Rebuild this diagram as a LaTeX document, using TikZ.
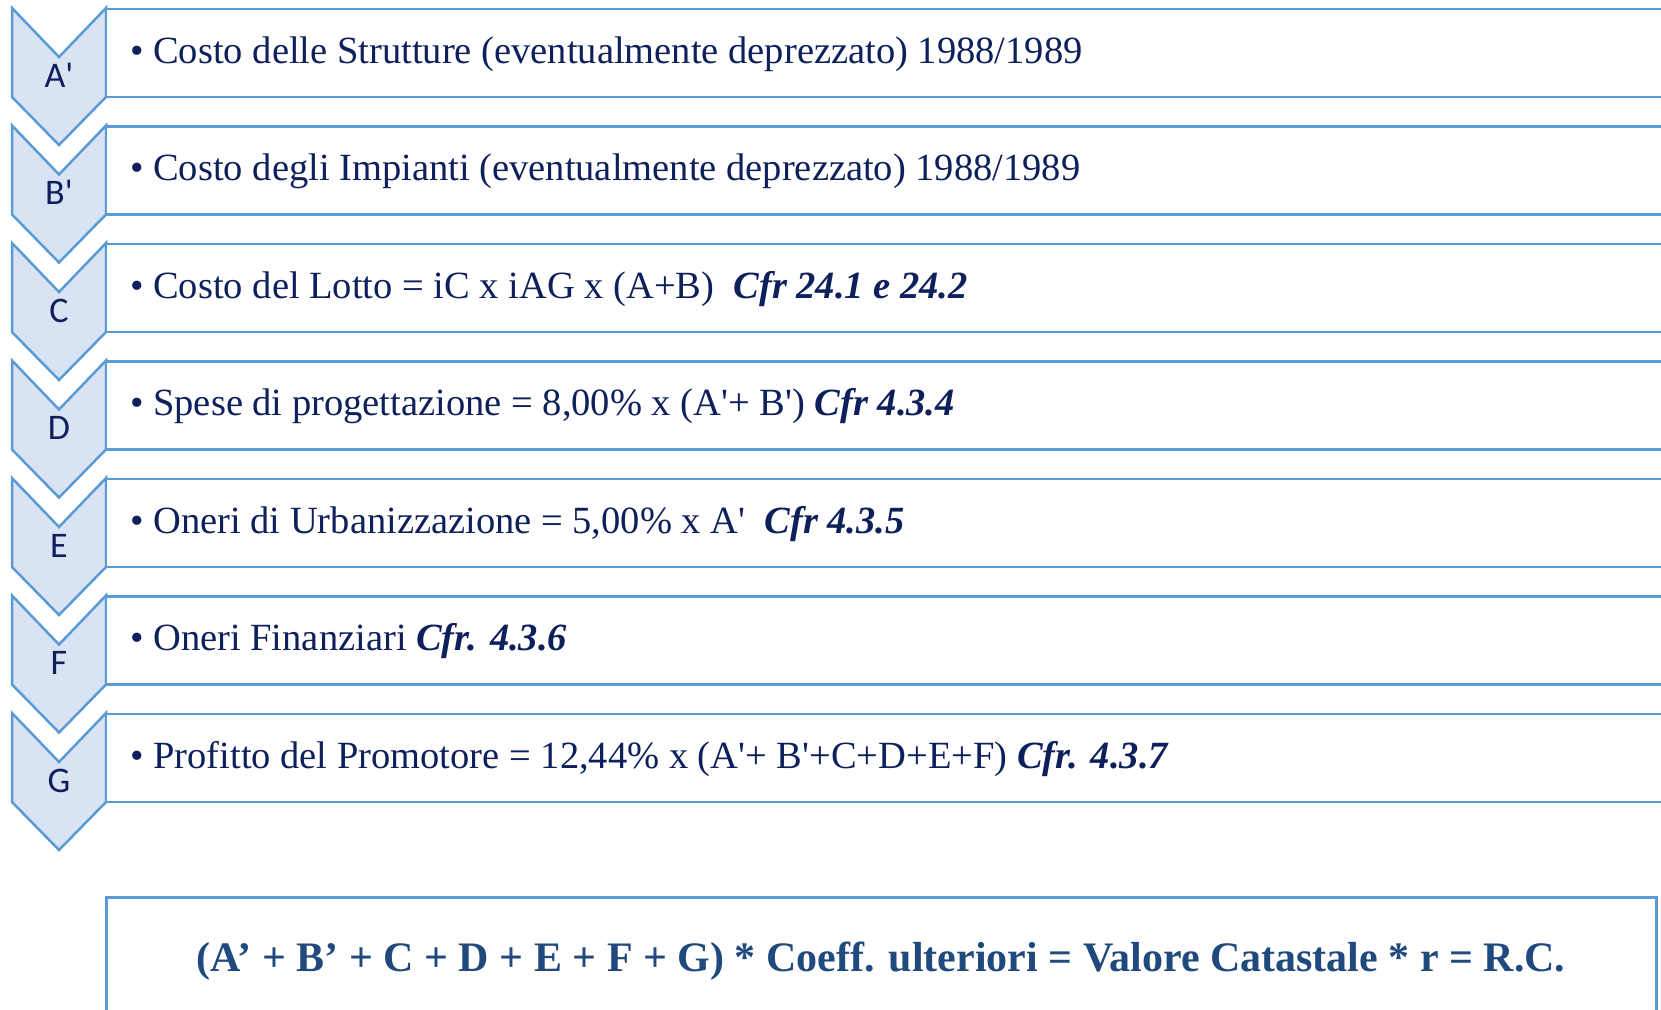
\documentclass[tikz,border=0pt]{standalone}
\usepackage{fontspec}
\setmainfont{Liberation Serif}
\newfontfamily\lblfont{Carlito}
\definecolor{edge}{HTML}{5B9BD5}
\definecolor{chev}{HTML}{DAE3F3}
\definecolor{ink}{HTML}{0E205B}
\definecolor{formula}{HTML}{204A7E}
\newcommand\cfr[1]{\textbf{\textit{#1}}}
\newcommand\sq{\textquotesingle}
\newcommand\rowentry[4]{%
  % #1 name, #2 top y, #3 label, #4 text
  \draw[chevshape] (12,#2) -- (59,#2+49) -- (106,#2) -- (106,#2+89) -- (59,#2+137) -- (12,#2+89) -- cycle;
  \draw[rowbox] (106,#2+1) rectangle (1700,#2+89);
  \node[lbl] (l#1) at (59,#2+79) {#3};
  \node[itemtext] (t#1) at (130,#2+55) {#4};
}
\begin{document}
\begin{tikzpicture}[x=1pt,y=-1pt,
  chevshape/.style={draw=edge, fill=chev, line width=2.5pt, line join=miter},
  rowbox/.style={draw=edge, fill=white, line width=2.5pt},
  itemtext/.style={anchor=base west, text=ink, font=\fontsize{38.5}{44}\selectfont, inner sep=0pt},
  lbl/.style={anchor=base, text=ink, font=\lblfont\fontsize{36}{40}\selectfont, inner sep=0pt},
  resbox/.style={draw=edge, fill=white, line width=3pt},
  restext/.style={anchor=base, text=formula, font=\bfseries\fontsize{42}{48}\selectfont, inner sep=0pt}]
\useasboundingbox (0,0) rectangle (1661,1009);
\clip (0,0) rectangle (1661,1009);
\rowentry{A}{8}{A\sq}{• Costo delle Strutture (eventualmente deprezzato) 1988/1989}
\rowentry{B}{125.5}{B\sq}{• Costo degli Impianti (eventualmente deprezzato) 1988/1989}
\rowentry{C}{243}{C}{• Costo del Lotto = iC x iAG x (A+B)\ \ \cfr{Cfr 24.1 e 24.2}}
\rowentry{D}{360.5}{D}{• Spese di progettazione = 8,00\% x (A\sq+ B\sq) \cfr{Cfr 4.3.4}}
\rowentry{E}{478}{E}{• Oneri di Urbanizzazione = 5,00\% x A\sq\ \ \cfr{Cfr 4.3.5}}
\rowentry{F}{595.5}{F}{• Oneri Finanziari \cfr{Cfr. 4.3.6}}
\rowentry{G}{713}{G}{• Profitto del Promotore = 12,44\% x (A\sq+ B\sq+C+D+E+F) \cfr{Cfr. 4.3.7}}
\draw[resbox] (106,897) rectangle (1656,1040);
\node[restext] (res) at (881,971) {(A’ + B’ + C + D + E + F + G) * Coeff. ulteriori = Valore Catastale * r = R.C.};
\end{tikzpicture}
\end{document}
